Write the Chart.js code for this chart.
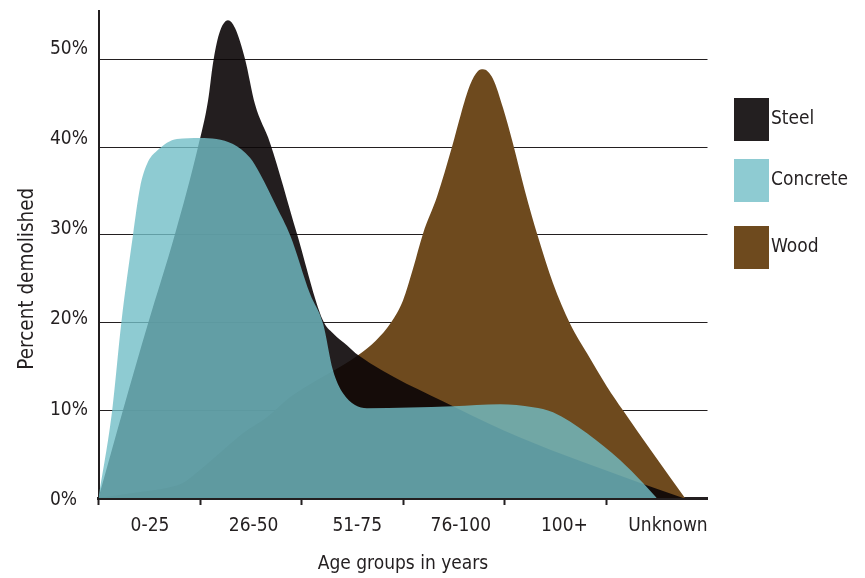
<!DOCTYPE html>
<html>
<head>
<meta charset="utf-8">
<script src="https://cdn.jsdelivr.net/npm/chart.js@4.4.1/dist/chart.umd.min.js"></script>
<style>
  html, body { margin: 0; padding: 0; background: #ffffff; }
  #wrap { width: 865px; height: 578px; }
</style>
</head>
<body>
<div id="wrap"><canvas id="c" width="865" height="578"></canvas></div>
<script>
// ---- data ----
const categories = ['0-25', '26-50', '51-75', '76-100', '100+', 'Unknown'];
const yTickValues = [0, 10, 20, 30, 40, 50];
const seriesNames = ['Steel', 'Concrete', 'Wood'];

// x positions are in category widths along the age axis (0 = left edge of "0-25"), y in percent
const steelX = [0, 0.241, 0.488, 0.754, 0.980, 1.079, 1.128, 1.187, 1.276, 1.345, 1.443, 1.542, 1.690, 1.956, 2.212, 2.310, 2.450, 2.557, 3.512, 4.153, 5.365, 5.760];
const steelY = [0, 10.0, 19.9, 30.1, 40.0, 45.3, 49.6, 52.9, 54.5, 53.6, 50.1, 44.9, 40.5, 30.1, 20.25, 18.8, 17.4, 16.3, 10.35, 6.9, 1.6, 0];

const concreteX = [0, 0.135, 0.225, 0.340, 0.409, 0.478, 0.576, 0.773, 1.000, 1.325, 1.493, 1.591, 1.759, 1.887, 2.084, 2.212, 2.310, 2.409, 2.645, 3.493, 3.956, 4.281, 4.478, 4.813, 5.138, 5.365, 5.500];
const concreteY = [0, 10.0, 20.0, 30.0, 35.4, 38.1, 39.6, 40.95, 41.07, 40.39, 38.8, 36.98, 33.1, 30.0, 23.3, 19.9, 14.56, 11.95, 10.24, 10.47, 10.69, 10.35, 9.78, 7.39, 4.32, 1.71, 0];

const woodX = [0, 0.409, 0.675, 0.833, 1.000, 1.227, 1.424, 1.660, 1.887, 1.990, 2.557, 2.734, 2.882, 3.000, 3.099, 3.197, 3.335, 3.483, 3.571, 3.660, 3.739, 3.788, 3.887, 3.985, 4.084, 4.202, 4.330, 4.478, 4.645, 4.813, 5.010, 5.167, 5.463, 5.778];
const woodY = [0, 0.68, 1.14, 1.71, 3.19, 5.46, 7.39, 9.22, 11.49, 12.29, 16.27, 17.97, 20.02, 22.53, 26.17, 30.15, 34.36, 40.05, 43.8, 47.1, 48.7, 48.9, 47.8, 44.5, 40.4, 35.0, 29.8, 24.5, 19.9, 16.5, 12.7, 10.0, 5.1, 0];

// ---- styling ----
const INK = '#231f20';
const FONT = "'DejaVu Sans Condensed', 'Liberation Sans Narrow', Lato, sans-serif";
const legendSwatch = { Steel: '#231f20', Concrete: '#8ecbd2', Wood: '#6e4a1e' };
const legendTops = [98, 159, 226];

function toPoints(xs, ys) { return xs.map((x, i) => ({ x: x, y: ys[i] })); }

const overlay = {
  id: 'overlay',
  afterLayout(chart) {
    const s = chart.scales.yTitle;
    if (s) { s.top += 48; }
  },
  afterDraw(chart) {
    const c = chart.ctx;
    c.save();
    c.font = '19px ' + FONT;
    c.textBaseline = 'middle';
    c.textAlign = 'left';
    seriesNames.forEach((name, i) => {
      const top = legendTops[i];
      c.fillStyle = legendSwatch[name];
      c.fillRect(734, top, 35, 43);
      c.fillStyle = INK;
      c.fillText(name, 771, top + 21.5);
    });
    c.restore();
  }
};

new Chart(document.getElementById('c'), {
  type: 'line',
  data: {
    datasets: [
      { label: 'Concrete', data: toPoints(concreteX, concreteY), xAxisID: 'x', yAxisID: 'y',
        fill: 'origin', backgroundColor: 'rgba(114,190,199,0.8)', borderColor: 'rgba(0,0,0,0)', borderWidth: 0 },
      { label: 'Steel', data: toPoints(steelX, steelY), xAxisID: 'x', yAxisID: 'y',
        fill: 'origin', backgroundColor: 'rgba(11,6,7,0.9)', borderColor: 'rgba(0,0,0,0)', borderWidth: 0 },
      { label: 'Wood', data: toPoints(woodX, woodY), xAxisID: 'x', yAxisID: 'y',
        fill: 'origin', backgroundColor: 'rgb(110,74,30)', borderColor: 'rgba(0,0,0,0)', borderWidth: 0 }
    ]
  },
  options: {
    responsive: false,
    animation: false,
    layout: { padding: { left: 0, top: 10, right: 157.5, bottom: 0 } },
    plugins: { legend: { display: false }, tooltip: { enabled: false } },
    elements: {
      point: { radius: 0, hoverRadius: 0 },
      line: { cubicInterpolationMode: 'monotone', borderWidth: 0 }
    },
    scales: {
      x: {
        type: 'linear', axis: 'x', position: 'bottom', weight: 0, z: 1, min: 0, max: 6,
        afterBuildTicks: s => { s.ticks = categories.map((c, i) => ({ value: i })); },
        ticks: { display: false },
        grid: { display: true, drawOnChartArea: false, drawTicks: true, tickLength: 7, tickWidth: 2, tickColor: INK },
        border: { display: true, color: INK, width: 3 },
        afterFit: s => { s.height = 8; }
      },
      xLabels: {
        type: 'linear', axis: 'x', position: 'bottom', weight: 1, min: -0.497, max: 5.381,
        afterBuildTicks: s => { s.ticks = categories.map((c, i) => ({ value: i })); },
        ticks: { display: true, padding: 1, color: INK, font: { family: FONT, size: 19 }, maxRotation: 0, autoSkip: false,
                 callback: v => categories[v] },
        grid: { display: false }, border: { display: false },
        title: { display: true, text: 'Age groups in years', color: INK, font: { family: FONT, size: 19 }, padding: { top: 0, bottom: 3 } },
        afterFit: s => { s.height = 72; }
      },
      y: {
        type: 'linear', axis: 'y', position: 'left', weight: 0, z: 1, min: 0, max: 55.5,
        afterBuildTicks: s => { s.ticks = yTickValues.map(v => ({ value: v })); },
        ticks: { display: false },
        grid: { color: INK, lineWidth: 1.1, drawTicks: false },
        border: { display: true, color: INK, width: 2 },
        afterFit: s => { s.width = 0; }
      },
      yLabels: {
        type: 'linear', axis: 'y', position: 'left', weight: 1, min: 0.221, max: 54.14,
        afterBuildTicks: s => { s.ticks = yTickValues.map(v => ({ value: v })); },
        ticks: { crossAlign: 'far', padding: 0, color: INK, font: { family: FONT, size: 19 }, autoSkip: false,
                 callback: v => v + '%' },
        grid: { display: false }, border: { display: false },
        afterFit: s => { s.width = 48.5; }
      },
      yTitle: {
        type: 'linear', axis: 'y', position: 'left', weight: 2, min: 0, max: 1,
        ticks: { display: false }, grid: { display: false }, border: { display: false },
        title: { display: true, text: 'Percent demolished', color: INK, font: { family: FONT, size: 20.5 }, padding: { top: 15, bottom: 0 } },
        afterFit: s => { s.width = 50; }
      }
    }
  },
  plugins: [overlay]
});
</script>
</body>
</html>
